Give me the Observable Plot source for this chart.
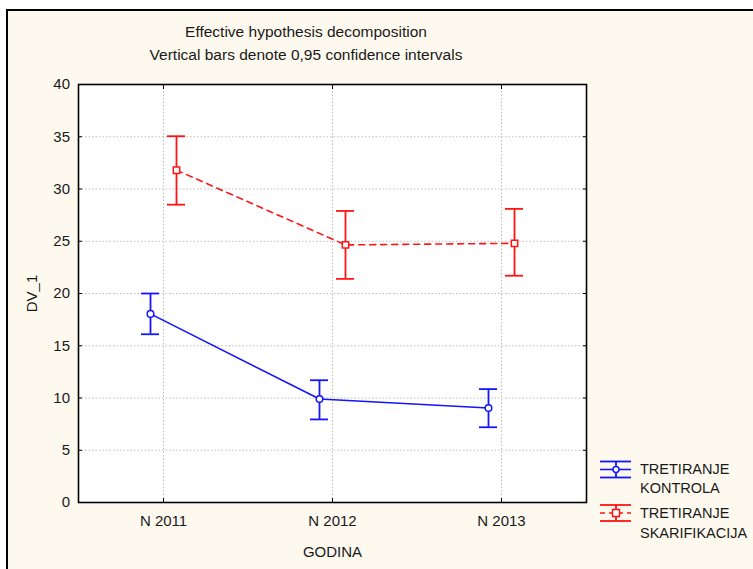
<!DOCTYPE html>
<html>
<head>
<meta charset="utf-8">
<script src="https://cdn.jsdelivr.net/npm/d3@7"></script>
<script src="https://cdn.jsdelivr.net/npm/@observablehq/plot@0.6"></script>
<style>
  html, body { margin: 0; padding: 0; background: #ffffff; }
  #page { position: relative; width: 753px; height: 569px; overflow: hidden; }
  #panel { position: absolute; left: 6px; top: 9px; width: 800px; height: 600px;
           border-left: 2px solid #000; border-top: 2px solid #000; background: #fef9ee; }
  #chart { position: absolute; left: 0; top: 0; }
  #overlay { position: absolute; left: 0; top: 0; pointer-events: none; }
</style>
</head>
<body>
<div id="page">
  <div id="panel"></div>
  <div id="chart"></div>
  <svg id="overlay" width="753" height="569"></svg>
</div>
<script>
// ---- data ----
const categories = ["N 2011", "N 2012", "N 2013"];
const yTicks = [0, 5, 10, 15, 20, 25, 30, 35, 40];

const seriesNames = ["TRETIRANJE KONTROLA", "TRETIRANJE SKARIFIKACIJA"];
const kontrolaMean = [18.05, 9.9, 9.05];
const kontrolaLow  = [16.1, 7.95, 7.2];
const kontrolaHigh = [20.0, 11.7, 10.85];

const skarMean = [31.8, 24.65, 24.8];
const skarLow  = [28.5, 21.4, 21.7];
const skarHigh = [35.05, 27.9, 28.1];

const titleText = "Effective hypothesis decomposition";
const subtitleText = "Vertical bars denote 0,95 confidence intervals";
const xLabel = "GODINA";
const yLabel = "DV_1";

// ---- build tables ----
const kontrola = categories.map((c, i) => ({cat: c, mean: kontrolaMean[i], lo: kontrolaLow[i], hi: kontrolaHigh[i]}));
const skar = categories.map((c, i) => ({cat: c, mean: skarMean[i], lo: skarLow[i], hi: skarHigh[i]}));

const BLUE = "#1414ff";
const RED = "#ff1414";
const FONT = "'Liberation Sans', Arial, sans-serif";
const offset = 13;

function seriesMarks(data, color, dx, symbol, r, dash) {
  return [
    Plot.line(data, {x: "cat", y: "mean", dx, stroke: color, strokeWidth: 1.6, strokeDasharray: dash}),
    Plot.ruleX(data, {x: "cat", y1: "lo", y2: "hi", dx, stroke: color, strokeWidth: 1.8}),
    Plot.ruleY(data, {x1: "cat", x2: "cat", y: "hi", dx, stroke: color, strokeWidth: 1.8, insetLeft: -9, insetRight: -9}),
    Plot.ruleY(data, {x1: "cat", x2: "cat", y: "lo", dx, stroke: color, strokeWidth: 1.8, insetLeft: -9, insetRight: -9}),
    Plot.dot(data, {x: "cat", y: "mean", dx, symbol, r, fill: "white", stroke: color, strokeWidth: 1.5})
  ];
}

const chart = Plot.plot({
  width: 753,
  height: 569,
  marginLeft: 78,
  marginRight: 167,
  marginTop: 84,
  marginBottom: 67,
  style: {background: "transparent", fontFamily: FONT, fontSize: "15px", color: "#1a1a1a", overflow: "visible"},
  x: {type: "point", domain: categories, padding: 0.5},
  y: {domain: [0, 40]},
  marks: [
    Plot.frame({fill: "white", stroke: null}),
    Plot.gridY(yTicks.slice(1, -1), {stroke: "#bdbdbd", strokeOpacity: 1, strokeDasharray: "1.5,2"}),
    Plot.gridX(categories, {stroke: "#bdbdbd", strokeOpacity: 1, strokeDasharray: "1.5,2"}),
    Plot.axisY(yTicks, {tickSize: -4, tickPadding: 12.5, label: yLabel, labelArrow: "none", labelAnchor: "center", labelOffset: 52, stroke: "#000"}),
    Plot.axisY(yTicks, {anchor: "right", tickSize: -4, tickFormat: () => "", label: null, stroke: "#000"}),
    Plot.axisX(categories, {tickSize: -4, tickPadding: 17, label: xLabel, labelArrow: "none", labelAnchor: "center", labelOffset: 54, stroke: "#000"}),
    Plot.axisX(categories, {anchor: "top", tickSize: -4, tickFormat: () => "", label: null, stroke: "#000"}),
    ...seriesMarks(kontrola, BLUE, -offset, "circle", 3.3, null),
    ...seriesMarks(skar, RED, offset, "square", 3.6, "6,5"),
    Plot.frame({stroke: "#000", strokeWidth: 1.6})
  ]
});
document.getElementById("chart").appendChild(chart);

// ---- title, subtitle and legend (outside the Plot frame) ----
const ov = d3.select("#overlay");
const txt = (x, y, s, anchor, size) => ov.append("text").attr("x", x).attr("y", y)
  .attr("text-anchor", anchor).attr("font-family", FONT).attr("font-size", size)
  .attr("fill", "#1a1a1a").text(s);
txt(306, 37, titleText, "middle", 15.5);
txt(306, 60, subtitleText, "middle", 15.5);

function legendItem(cy, color, symbol, dash, lines, baselines) {
  const g = ov.append("g");
  const x0 = 600, x1 = 631, xc = 616;
  g.append("line").attr("x1", x0).attr("x2", x1).attr("y1", cy - 8).attr("y2", cy - 8).attr("stroke", color).attr("stroke-width", 1.8);
  g.append("line").attr("x1", x0).attr("x2", x1).attr("y1", cy + 8).attr("y2", cy + 8).attr("stroke", color).attr("stroke-width", 1.8);
  g.append("line").attr("x1", xc).attr("x2", xc).attr("y1", cy - 8).attr("y2", cy + 8).attr("stroke", color).attr("stroke-width", 1.8);
  g.append("line").attr("x1", x0).attr("x2", x1).attr("y1", cy).attr("y2", cy).attr("stroke", color).attr("stroke-width", 1.6).attr("stroke-dasharray", dash);
  if (symbol === "circle") {
    g.append("circle").attr("cx", xc).attr("cy", cy).attr("r", 3).attr("fill", "white").attr("stroke", color).attr("stroke-width", 1.5);
  } else {
    g.append("rect").attr("x", xc - 3.5).attr("y", cy - 3.5).attr("width", 7).attr("height", 7).attr("fill", "white").attr("stroke", color).attr("stroke-width", 1.5);
  }
  lines.forEach((l, i) => txt(640, baselines[i], l, "start", 14.5));
}
legendItem(469.5, BLUE, "circle", null, seriesNames[0].split(" "), [474, 493]);
legendItem(513, RED, "square", "5,4", seriesNames[1].split(" "), [518, 538]);
</script>
</body>
</html>
